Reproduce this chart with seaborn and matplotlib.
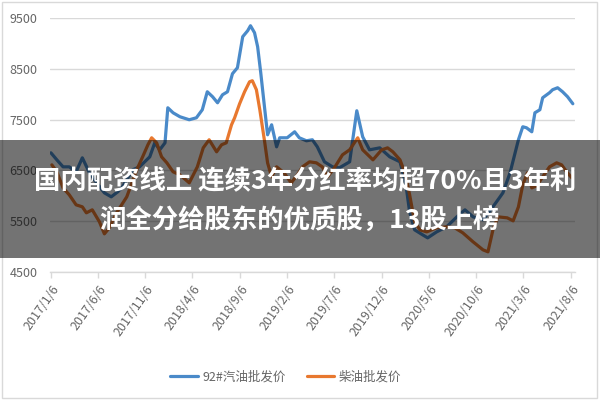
import matplotlib
matplotlib.use("Agg")
import matplotlib.pyplot as plt
import seaborn as sns
import pandas as pd
from matplotlib.patches import Rectangle
from matplotlib.lines import Line2D

gas_dates = ["2017-01-06", "2017-01-25", "2017-02-14", "2017-03-06", "2017-03-28", "2017-04-17",
             "2017-05-10", "2017-06-02", "2017-06-27", "2017-07-19", "2017-08-09", "2017-08-24",
             "2017-09-26", "2017-10-18", "2017-11-20", "2017-12-06", "2017-12-22", "2018-01-08",
             "2018-01-17", "2018-02-03", "2018-02-25", "2018-03-27", "2018-04-19", "2018-05-08",
             "2018-05-24", "2018-06-10", "2018-06-26", "2018-07-12", "2018-07-28", "2018-08-13",
             "2018-08-29", "2018-09-15", "2018-10-01", "2018-10-10", "2018-10-23", "2018-11-02",
             "2018-11-12", "2018-11-25", "2018-12-04", "2018-12-17", "2019-01-02", "2019-01-12",
             "2019-02-05", "2019-03-01", "2019-03-16", "2019-04-08", "2019-04-27", "2019-05-13",
             "2019-06-05", "2019-07-01", "2019-07-23", "2019-08-25", "2019-09-17", "2019-10-06",
             "2019-10-28", "2019-11-30", "2020-01-01", "2020-02-03", "2020-02-22", "2020-03-05",
             "2020-03-21", "2020-04-16", "2020-05-02", "2020-05-31", "2020-07-02", "2020-08-04",
             "2020-08-30", "2020-09-25", "2020-10-27", "2020-11-28", "2020-12-21", "2020-12-30",
             "2021-01-22", "2021-02-18", "2021-03-04", "2021-03-16", "2021-04-02", "2021-04-12",
             "2021-04-28", "2021-05-07", "2021-05-29", "2021-06-08", "2021-06-24", "2021-07-10",
             "2021-07-26", "2021-08-12"]
gas_prices = [6846, 6708, 6570, 6570, 6472, 6748,
              6452, 6255, 6058, 5980, 6078, 6176,
              6511, 6570, 6767, 7043, 6905, 7043,
              7733, 7634, 7556, 7497, 7536, 7694,
              8048, 7950, 7831, 7989, 8048, 8403,
              8521, 9132, 9250, 9348, 9210, 8934,
              8422, 7694, 7201, 7398, 6964, 7142,
              7142, 7260, 7142, 7083, 7103, 6964,
              6669, 6570, 6551, 6669, 7674, 7161,
              6905, 6944, 6767, 6669, 6216, 5684,
              5330, 5231, 5172, 5290, 5389, 5586,
              5724, 5586, 5527, 5783, 5980, 6058,
              6452, 7103, 7359, 7339, 7260, 7634,
              7694, 7930, 8029, 8088, 8127, 8048,
              7950, 7812]

diesel_dates = ["2017-01-09", "2017-01-25", "2017-02-14", "2017-03-06", "2017-03-28", "2017-04-17",
                "2017-04-30", "2017-05-19", "2017-06-11", "2017-06-27", "2017-07-13", "2017-08-05",
                "2017-09-07", "2017-10-09", "2017-10-28", "2017-11-14", "2017-11-26", "2017-12-12",
                "2017-12-28", "2018-01-14", "2018-02-03", "2018-02-25", "2018-03-27", "2018-04-22",
                "2018-05-11", "2018-05-30", "2018-06-23", "2018-07-09", "2018-07-24", "2018-08-10",
                "2018-08-20", "2018-09-05", "2018-09-21", "2018-10-07", "2018-10-16", "2018-10-29",
                "2018-11-09", "2018-11-25", "2018-12-04", "2018-12-17", "2019-01-02", "2019-01-26",
                "2019-02-18", "2019-03-10", "2019-03-26", "2019-04-18", "2019-05-10", "2019-05-29",
                "2019-06-15", "2019-07-07", "2019-08-02", "2019-08-25", "2019-09-20", "2019-10-06",
                "2019-11-08", "2019-12-06", "2019-12-25", "2020-01-11", "2020-02-03", "2020-02-19",
                "2020-03-05", "2020-03-21", "2020-04-07", "2020-04-29", "2020-05-31", "2020-07-02",
                "2020-07-28", "2020-08-23", "2020-09-25", "2020-10-27", "2020-11-12", "2020-11-28",
                "2020-12-14", "2021-01-13", "2021-02-01", "2021-02-18", "2021-03-04", "2021-03-19",
                "2021-04-02", "2021-04-18", "2021-05-07", "2021-05-29", "2021-06-21", "2021-07-07",
                "2021-07-23", "2021-08-09"]
diesel_prices = [6609, 6472, 6157, 6019, 5822, 5783,
                 5665, 5724, 5488, 5251, 5370, 5665,
                 5980, 6511, 6767, 7004, 7142, 7043,
                 6767, 6649, 6472, 6413, 6255, 6570,
                 6944, 7103, 6866, 7004, 7043, 7398,
                 7536, 7812, 8048, 8245, 8265, 8088,
                 7694, 7043, 6649, 6373, 6570, 6452,
                 6255, 6413, 6570, 6669, 6649, 6570,
                 6373, 6551, 6807, 6905, 7142, 6905,
                 6708, 6905, 6944, 6866, 6708, 6452,
                 6019, 5488, 5330, 5290, 5370, 5389,
                 5370, 5271, 5094, 4936, 4897, 5330,
                 5586, 5566, 5507, 5783, 6216, 6452,
                 6157, 6196, 6373, 6570, 6649, 6609,
                 6472, 6353]

series_names = ["92#汽油批发价", "柴油批发价"]
tick_labels = ["2017/1/6", "2017/6/6", "2017/11/6", "2018/4/6", "2018/9/6", "2019/2/6",
               "2019/7/6", "2019/12/6", "2020/5/6", "2020/10/6", "2021/3/6", "2021/8/6"]
y_ticks = [4500, 5500, 6500, 7500, 8500, 9500]
title_lines = ["国内配资线上 连续3年分红率均超70%且3年利", "润全分给股东的优质股，13股上榜"]

colors = ["#4a8ac9", "#e8782f"]

sns.set_theme(style="white")
plt.rcParams["font.family"] = ["Noto Sans CJK SC", "DejaVu Sans"]

df = pd.concat([
    pd.DataFrame({"date": pd.to_datetime(gas_dates), "price": gas_prices, "series": series_names[0]}),
    pd.DataFrame({"date": pd.to_datetime(diesel_dates), "price": diesel_prices, "series": series_names[1]}),
], ignore_index=True)

fig = plt.figure(figsize=(6, 4), dpi=100)
fig.patch.set_facecolor("white")
ax = fig.add_axes([50 / 600, 1 - 272 / 400, 525 / 600, 254 / 400])

sns.lineplot(data=df, x="date", y="price", hue="series", hue_order=series_names,
             palette=colors, linewidth=2.3, ax=ax, legend=False)

ax.set_ylim(y_ticks[0], y_ticks[-1])
ax.set_yticks(y_ticks)
tick_dates = pd.to_datetime(tick_labels, format="%Y/%m/%d")
ax.set_xlim(pd.Timestamp("2017-01-03"), pd.Timestamp("2021-08-19"))
ax.set_xticks(tick_dates)
ax.set_xticklabels(tick_labels, rotation=55, ha="right", rotation_mode="anchor")
ax.set_xlabel("")
ax.set_ylabel("")

ax.yaxis.grid(True, color="#d9d9d9", linewidth=1)
ax.xaxis.grid(False)
ax.set_axisbelow(True)
for s in ["left", "top", "right"]:
    ax.spines[s].set_visible(False)
ax.spines["bottom"].set_color("#d9d9d9")
ax.spines["bottom"].set_linewidth(1)

ax.tick_params(axis="x", length=4, width=1, color="#d9d9d9", labelsize=9,
               labelcolor="#666666", pad=4, direction="out", bottom=True)
ax.tick_params(axis="y", length=0, labelsize=9, labelcolor="#666666", pad=9)

handles = [Line2D([0], [0], color=c, lw=2.3) for c in colors]
fig.legend(handles, series_names, loc="center", bbox_to_anchor=(0.476, 0.057), ncol=2,
           frameon=False, fontsize=9, handlelength=2.2, columnspacing=1.7,
           handletextpad=0.35, labelcolor="#666666")

# outer chart border
fig.patches.append(Rectangle((0.004, 0.004), 0.991, 0.991, transform=fig.transFigure,
                             fill=False, edgecolor="#d9d9d9", linewidth=1, zorder=5))

# dark overlay banner
fig.patches.append(Rectangle((0, 1 - 258 / 400), 1, 118 / 400, transform=fig.transFigure,
                             facecolor="black", alpha=0.55, edgecolor="none", zorder=10))
fig.text(0.508, 1 - 182 / 400, title_lines[0], color="white", fontsize=19, fontweight="bold",
         ha="center", va="center", zorder=11)
fig.text(0.499, 1 - 221 / 400, title_lines[1], color="white", fontsize=19, fontweight="bold",
         ha="center", va="center", zorder=11)

fig.savefig("out.png", dpi=100)
